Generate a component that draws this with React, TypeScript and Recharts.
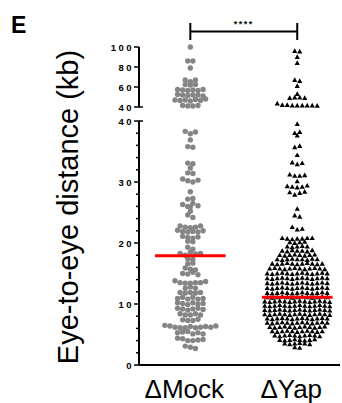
import { ScatterChart, Scatter, XAxis, YAxis, ReferenceLine } from "recharts";

const categories = ["ΔMock", "ΔYap"];
// red bars drawn at the centre of each group
const medians = [17.9, 11.1];

// ΔMock, part of the distribution above the axis break (kb)
const mockHigh = [
  100,
  86, 86,
  79,
  67, 65.3, 67,
  62.5, 62, 62.5,
  57.5, 57, 56.5, 57, 56.5, 57.5,
  52.5, 52, 51.5, 52, 52, 51,
  47, 46.5, 47, 46, 47.5, 46.5, 48,
  41.5, 41, 41, 41.5,
];

// ΔMock, 0–40 kb
const mockLow = [
  38.3, 37.9, 38.2,
  36.9,
  35.8, 35.7,
  33.1, 33.0,
  32.3,
  31.5, 31.4,
  30.5, 30.2, 30.0, 30.3,
  28.4,
  27.2, 27.3,
  26.3, 26.0, 26.5, 25.9, 26.1,
  25.2,
  24.6, 24.2,
  22.8, 22.6, 22.5, 22.6, 22.8,
  22.1, 21.9, 21.8, 21.9, 21.8, 22.0,
  21.1, 20.9, 20.8, 21.0,
  20.3, 20.2,
  19.3, 19.0,
  18.3, 18.0, 18.5, 18.2, 18.3,
  17.4, 17.3,
  16.6, 16.7,
  15.9, 15.7, 15.6,
  15.0, 14.9, 15.2, 14.8,
  13.8, 13.5, 13.4, 13.4, 13.5, 13.5, 13.7,
  12.6, 12.8, 12.6,
  11.9, 11.8, 11.9, 11.8, 11.9,
  10.9, 11.1, 10.8, 11.1, 10.8, 10.9,
  10.2, 10.1, 9.9, 10.2, 10.0, 10.1,
  9.3, 9.2, 9.0, 9.2, 9.3, 9.1,
  8.4, 8.2, 8.2, 8.4, 8.2,
  7.4, 7.3, 7.3, 7.5,
  6.5, 6.4, 6.2, 6.1, 6.1, 6.3, 6.1, 6.2, 6.3, 6.2, 6.4,
  5.3, 5.4, 5.5, 5.1, 5.3, 5.1,
  4.4, 4.3, 4.0, 4.0, 4.1, 4.2,
  3.1, 2.9, 2.7,
];

// ΔYap, above the axis break (kb)
const yapHigh = [
  96, 95.5,
  90,
  84,
  67, 66,
  61,
  53,
  49, 49.5, 49.5, 49,
  43.5, 42, 42, 41.5, 41.5, 41.5, 41.5, 41.5, 41.2,
];

// ΔYap, 0–40 kb
const yapLow = [
  39.5,
  38.0, 37.6, 38.2,
  35.7, 35.9,
  34.4,
  33.2, 32.9, 33.1,
  31.2, 31.0, 31.0, 31.1,
  30.1,
  29.3, 29.2, 29.1, 29.2, 29.4,
  28.3, 27.9, 28.2, 28.4,
  25.6,
  24.5, 24.3,
  22.6, 22.2, 22.3,
  20.8, 20.7, 20.6, 20.7, 20.7, 20.8, 20.8,
  20.1, 20.0, 20.1, 20.2,
  19.4, 19.3, 19.4, 19.5, 19.4,
  18.7, 18.6, 18.8, 18.7, 18.7, 18.6, 18.8,
  18.0, 17.9, 18.0, 18.1, 18.0, 17.9, 18.0, 18.1,
  17.3, 17.2, 17.3, 17.4, 17.3, 17.3, 17.2, 17.4, 17.3,
  16.6, 16.5, 16.6, 16.7, 16.6, 16.5, 16.6, 16.7, 16.6, 16.5, 16.6,
  15.8, 15.9, 15.8, 15.7, 15.8, 15.9, 15.8, 15.7, 15.8, 15.9, 15.8, 15.7,
  15.0, 14.9, 15.0, 15.1, 15.0, 14.9, 15.0, 15.1, 15.0, 14.9, 15.0, 15.1, 15.0,
  14.2, 14.1, 14.2, 14.3, 14.2, 14.1, 14.2, 14.3, 14.2, 14.1, 14.2, 14.3, 14.2,
  13.4, 13.3, 13.4, 13.5, 13.4, 13.3, 13.4, 13.5, 13.4, 13.3, 13.4, 13.5, 13.4,
  12.6, 12.5, 12.6, 12.7, 12.6, 12.5, 12.6, 12.7, 12.6, 12.5, 12.6, 12.7, 12.6,
  11.8, 11.7, 11.8, 11.9, 11.8, 11.7, 11.8, 11.9, 11.8, 11.7, 11.8, 11.9, 11.8,
  11.1, 11.0, 11.1, 11.2, 11.1, 11.0, 11.1, 11.2, 11.1, 11.0, 11.1, 11.2, 11.1,
  10.4, 10.3, 10.4, 10.5, 10.4, 10.3, 10.4, 10.5, 10.4, 10.3, 10.4, 10.5, 10.4, 10.3,
  9.7, 9.6, 9.7, 9.8, 9.7, 9.6, 9.7, 9.8, 9.7, 9.6, 9.7, 9.8, 9.7, 9.6,
  9.0, 8.9, 9.0, 9.1, 9.0, 8.9, 9.0, 9.1, 9.0, 8.9, 9.0, 9.1, 9.0, 8.9,
  8.3, 8.2, 8.3, 8.4, 8.3, 8.2, 8.3, 8.4, 8.3, 8.2, 8.3, 8.4, 8.3, 8.2,
  7.6, 7.5, 7.6, 7.7, 7.6, 7.5, 7.6, 7.7, 7.6, 7.5, 7.6, 7.7, 7.6,
  6.9, 6.8, 6.9, 7.0, 6.9, 6.8, 6.9, 7.0, 6.9, 6.8, 6.9, 7.0, 6.9,
  6.2, 6.1, 6.2, 6.3, 6.2, 6.1, 6.2, 6.3, 6.2, 6.1, 6.2, 6.3,
  5.5, 5.4, 5.5, 5.6, 5.5, 5.4, 5.5, 5.6, 5.5, 5.4, 5.5,
  4.8, 4.7, 4.8, 4.9, 4.8, 4.7, 4.8, 4.9, 4.8, 4.7,
  4.1, 4.0, 4.1, 4.2, 4.1, 4.0, 4.1, 4.2,
  3.5, 3.4, 3.5, 3.6, 3.5, 3.4,
  2.9, 2.8,
];

const upperTicks = [40, 60, 80, 100];
const lowerTicks = [0, 2, 4, 6, 8, 10, 12, 14, 16, 18, 20, 22, 24, 26, 28, 30, 32, 34, 36, 38, 40];
const lowerLabels = [0, 10, 20, 30, 40];
const breakValue = 40;

// layout
const W = 342;
const H = 403;
const AXIS_X = 139;
const RIGHT = 2;
const UPPER = { top: 47, bottom: 107 };
const LOWER = { top: 121, bottom: 365 };
const X_DOMAIN: [number, number] = [0.52, 2.4];
const X_PX = (W - RIGHT - AXIS_X) / (X_DOMAIN[1] - X_DOMAIN[0]);
const ROW_PX = 3.5;
const MEDIAN_HALF = 0.33 * X_PX;
const FONT = "'Liberation Sans', Arial, Helvetica, sans-serif";
const GREY = "#858585";
const RED = "#ff0000";

// GraphPad style column scatter: points that fall on the same pixel row are spread sideways
function swarm(values: number[], center: number, pxPerY: number, stepPx: number) {
  const order = values.map((_, i) => i).sort((a, b) => values[b] - values[a] || a - b);
  const rows: number[][] = [];
  let start = Infinity;
  for (const i of order) {
    const last = rows[rows.length - 1];
    if (last && (start - values[i]) * pxPerY < ROW_PX) last.push(i);
    else {
      rows.push([i]);
      start = values[i];
    }
  }
  const pts: { x: number; y: number }[] = [];
  for (const row of rows) {
    row.sort((a, b) => a - b);
    row.forEach((i, k) =>
      pts.push({ x: center + ((k - (row.length - 1) / 2) * stepPx) / X_PX, y: values[i] })
    );
  }
  return pts;
}

const upperPx = (UPPER.bottom - UPPER.top) / 60;
const lowerPx = (LOWER.bottom - LOWER.top) / 40;

const mockHighPts = swarm(mockHigh, 1, upperPx, 5.1);
const yapHighPts = swarm(yapHigh, 2, upperPx, 5.0);
const mockLowPts = swarm(mockLow, 1, lowerPx, 5.1);
const yapLowPts = swarm(yapLow, 2, lowerPx, 5.0);
const medianPts = medians.map((m, i) => ({ x: i + 1, y: m }));

const dot = (p: any) => <circle cx={p.cx} cy={p.cy} r={2.7} fill={GREY} />;
const tri = (p: any) => (
  <polygon
    points={`${p.cx},${p.cy - 2.7} ${p.cx - 2.6},${p.cy + 1.9} ${p.cx + 2.6},${p.cy + 1.9}`}
    fill="#000"
  />
);
const bar = (p: any) => (
  <line x1={p.cx - MEDIAN_HALF} x2={p.cx + MEDIAN_HALF} y1={p.cy} y2={p.cy} stroke={RED} strokeWidth={3} />
);

function YTick({ x, y, payload, labels }: any) {
  const v = payload.value;
  const major = labels.includes(v);
  return (
    <g>
      <line
        x1={x - (major ? 5 : 3)}
        x2={v === breakValue ? x + 4 : x}
        y1={y}
        y2={y}
        stroke="#000"
        strokeWidth={1.5}
      />
      {major && (
        <text
          x={x - 5}
          y={y}
          dy={3.5}
          textAnchor="end"
          fontFamily={FONT}
          fontSize={9.5}
          fontWeight={700}
          letterSpacing={2.5}
          fill="#000"
        >
          {v}
        </text>
      )}
    </g>
  );
}

function XTick({ x, y, payload }: any) {
  return (
    <text x={x - 6} y={y + 33} textAnchor="middle" fontFamily={FONT} fontSize={26} fill="#000">
      {categories[payload.value - 1]}
    </text>
  );
}

const axisLine = { stroke: "#000", strokeWidth: 2 };
const layer: React.CSSProperties = { position: "absolute", left: 0, top: 0 };

export default function App() {
  return (
    <div style={{ position: "absolute", left: 0, top: 0, width: W, height: H, background: "#fff" }}>
      <div style={layer}>
        <ScatterChart
          width={W}
          height={H}
          margin={{ top: UPPER.top, right: RIGHT, bottom: H - UPPER.bottom, left: 0 }}
        >
          <XAxis type="number" dataKey="x" domain={X_DOMAIN} hide />
          <YAxis
            type="number"
            dataKey="y"
            domain={[40, 100]}
            ticks={upperTicks}
            interval={0}
            width={AXIS_X}
            axisLine={axisLine}
            tickLine={false}
            tickSize={0}
            tickMargin={0}
            tick={(p: any) => <YTick {...p} labels={upperTicks} />}
          />
          <Scatter data={mockHighPts} shape={dot} isAnimationActive={false} />
          <Scatter data={yapHighPts} shape={tri} isAnimationActive={false} />
          <ReferenceLine
            ifOverflow="visible"
            segment={[{ x: 1, y: 115.5 }, { x: 2, y: 115.5 }]}
            stroke="#000"
            strokeWidth={2}
            label={{ value: "****", position: "top", offset: 5, fontSize: 9, fontWeight: 700, fill: "#000", fontFamily: FONT, letterSpacing: 1.5 }}
          />
          <ReferenceLine ifOverflow="visible" segment={[{ x: 1, y: 107 }, { x: 1, y: 124 }]} stroke="#000" strokeWidth={2} />
          <ReferenceLine ifOverflow="visible" segment={[{ x: 2, y: 107 }, { x: 2, y: 124 }]} stroke="#000" strokeWidth={2} />
        </ScatterChart>
      </div>
      <div style={layer}>
        <ScatterChart width={W} height={H} margin={{ top: LOWER.top, right: RIGHT, bottom: 0, left: 0 }}>
          <XAxis
            type="number"
            dataKey="x"
            domain={X_DOMAIN}
            ticks={[1, 2]}
            interval={0}
            height={H - LOWER.bottom}
            axisLine={axisLine}
            tickLine={false}
            tickSize={0}
            tickMargin={0}
            tick={<XTick />}
          />
          <YAxis
            type="number"
            dataKey="y"
            domain={[0, 40]}
            ticks={lowerTicks}
            interval={0}
            width={AXIS_X}
            axisLine={axisLine}
            tickLine={false}
            tickSize={0}
            tickMargin={0}
            tick={(p: any) => <YTick {...p} labels={lowerLabels} />}
          />
          <Scatter data={mockLowPts} shape={dot} isAnimationActive={false} />
          <Scatter data={yapLowPts} shape={tri} isAnimationActive={false} />
          <Scatter data={medianPts} shape={bar} isAnimationActive={false} />
        </ScatterChart>
      </div>
      <svg width={W} height={H} style={{ ...layer, pointerEvents: "none" }}>
        <text x={11} y={33} fontFamily={FONT} fontSize={23} fontWeight={700} fill="#000">
          E
        </text>
        <text
          transform="translate(78,207) rotate(-90)"
          textAnchor="middle"
          fontFamily={FONT}
          fontSize={29}
          fill="#000"
        >
          Eye-to-eye distance (kb)
        </text>
      </svg>
    </div>
  );
}
